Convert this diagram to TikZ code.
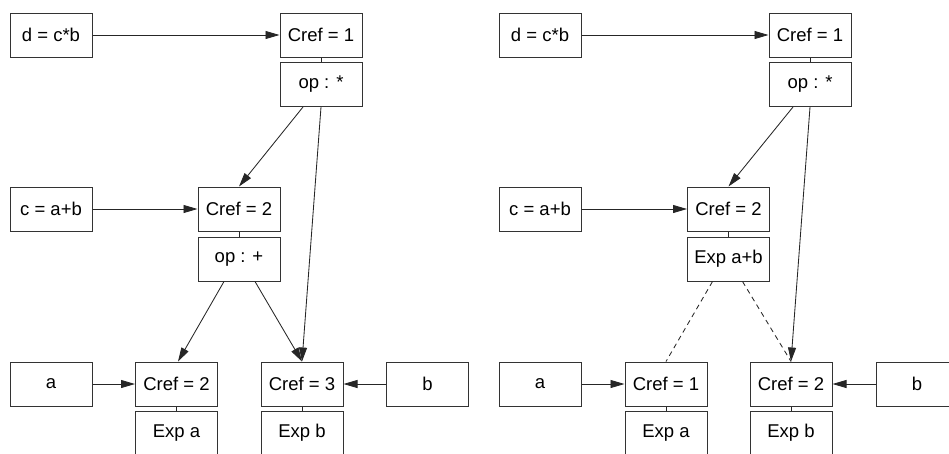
\documentclass[tikz,border=0pt]{standalone}
\usepackage{fontspec}
\setmainfont{Liberation Sans}
\usetikzlibrary{arrows.meta}
\begin{document}
\begin{tikzpicture}[x=1pt,y=-1pt,
  box/.style={draw=black!80, line width=1pt, minimum width=82pt, minimum height=44pt,
    inner sep=0pt, font=\fontsize{18.5}{20}\selectfont},
  link/.style={draw=black!85, line width=0.85pt},
  ref/.style={link, -{Triangle[length=14pt,width=8pt]}},
  weak/.style={link, dashed, dash pattern=on 5pt off 4pt}]
\useasboundingbox (0,0) rectangle (949,453);
\clip (0,0) rectangle (949,453);

% ---------- before sharing: every expression keeps its own node ----------
\node[box] (dL)   at (51,35)    {d = c*b};
\node[box] (c1L)  at (321,35)   {Cref = 1};
\node[box] (mulL) at (321,84.5) {op : *};
\node[box] (cL)   at (51,209)   {c = a+b};
\node[box] (c2L)  at (239,209)  {Cref = 2};
\node[box] (addL) at (239,259)  {op : +};
\node[box] (aL)   at (51,384)   {a};
\node[box] (caL)  at (176.5,384) {Cref = 2};
\node[box] (eaL)  at (176.5,433) {Exp a};
\node[box] (cbL)  at (302,384)  {Cref = 3};
\node[box] (ebL)  at (302,433)  {Exp b};
\node[box] (bL)   at (427.5,384) {b};

\draw[link] (c1L) -- (mulL);
\draw[link] (c2L) -- (addL);
\draw[link] (caL) -- (eaL);
\draw[link] (cbL) -- (ebL);

\draw[ref] (dL.east) -- (c1L.west);
\draw[ref] (cL.east) -- (c2L.west);
\draw[ref] (aL.east) -- (caL.west);
\draw[ref] (bL.west) -- (cbL.east);
\draw[ref] ([xshift=-18pt]mulL.south) -- (c2L.north);
\draw[ref] (mulL.south) -- (cbL.north);
\draw[ref] ([xshift=-15pt]addL.south) -- ([xshift=1.5pt]caL.north);
\draw[ref] ([xshift=16pt]addL.south) -- (cbL.north);

% ---------- after sharing: the sum is kept as a plain expression ----------
\node[box] (dR)   at (540,35)    {d = c*b};
\node[box] (c1R)  at (810,35)    {Cref = 1};
\node[box] (mulR) at (810,84.5)  {op : *};
\node[box] (cR)   at (540,209)   {c = a+b};
\node[box] (c2R)  at (728.5,209) {Cref = 2};
\node[box] (expR) at (728.5,259) {Exp a+b};
\node[box] (aR)   at (540,384)   {a};
\node[box] (caR)  at (666,384)   {Cref = 1};
\node[box] (eaR)  at (666,433)   {Exp a};
\node[box] (cbR)  at (791,384)   {Cref = 2};
\node[box] (ebR)  at (791,433)   {Exp b};
\node[box] (bR)   at (917,384)   {b};

\draw[link] (c1R) -- (mulR);
\draw[link] (c2R) -- (expR);
\draw[link] (caR) -- (eaR);
\draw[link] (cbR) -- (ebR);

\draw[ref] (dR.east) -- (c1R.west);
\draw[ref] (cR.east) -- (c2R.west);
\draw[ref] (aR.east) -- (caR.west);
\draw[ref] (bR.west) -- (cbR.east);
\draw[ref] ([xshift=-17pt]mulR.south) -- (c2R.north);
\draw[ref] (mulR.south) -- (cbR.north);
\draw[weak] ([xshift=-16pt]expR.south) -- (caR.north);
\draw[weak] ([xshift=14pt]expR.south) -- (cbR.north);
\end{tikzpicture}
\end{document}
